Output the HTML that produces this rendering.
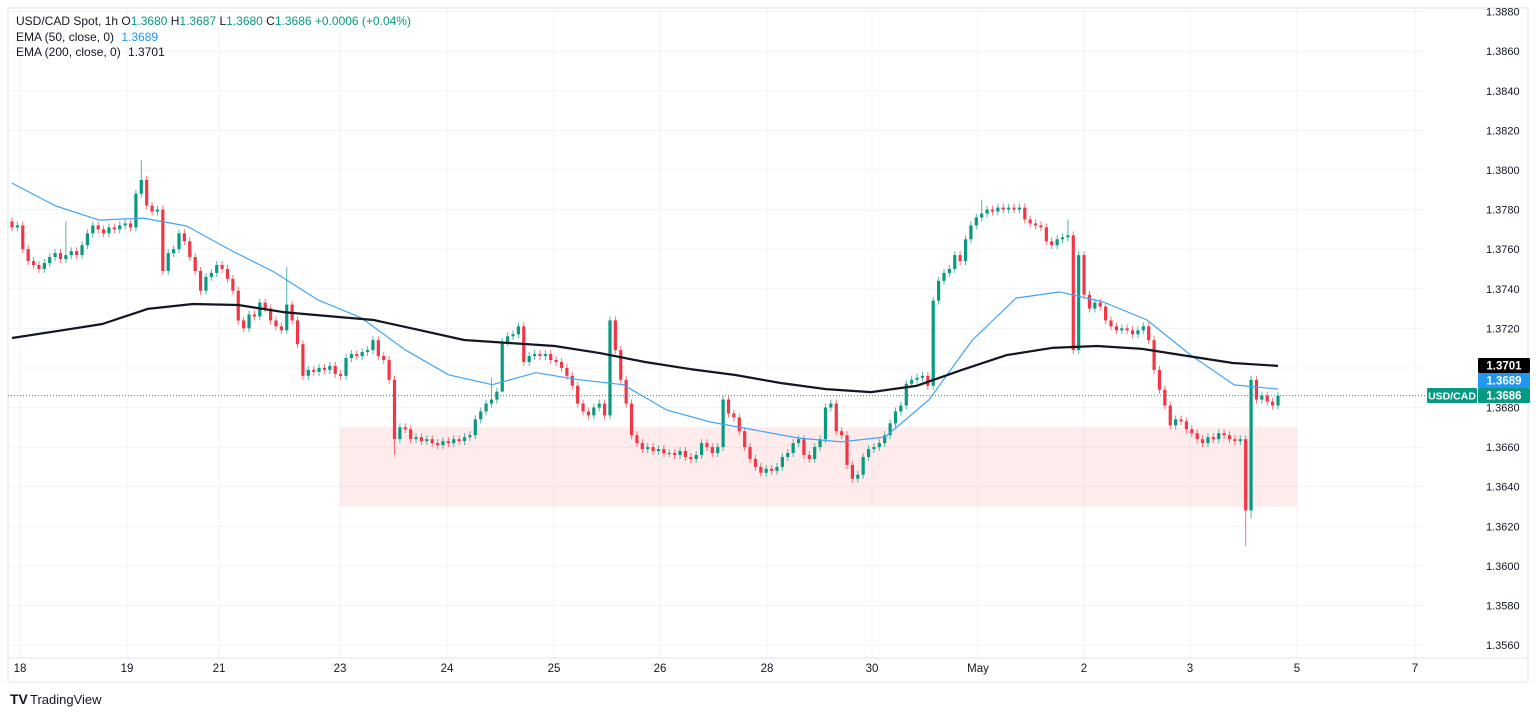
<!DOCTYPE html>
<html><head><meta charset="utf-8"><style>
html,body{margin:0;padding:0;background:#fff;}
svg{display:block;font-family:"Liberation Sans",sans-serif;}
</style></head><body>
<svg id="chart" width="1536" height="714" viewBox="0 0 1536 714" xmlns="http://www.w3.org/2000/svg">
<rect x="0" y="0" width="1536" height="714" fill="#fff"/>
<rect x="8" y="8" width="1520" height="674" fill="none" stroke="#e0e3eb"/>
<g id="grid"></g>
<g id="zone"></g>
<g id="candles"></g>
<g id="emas"></g>
<g id="axes"></g>
<g font-size="12" fill="#131722">
<text x="16" y="25">USD/CAD Spot, 1h <tspan fill="#131722"> O</tspan><tspan fill="#089981">1.3680</tspan><tspan fill="#131722"> H</tspan><tspan fill="#089981">1.3687</tspan><tspan fill="#131722"> L</tspan><tspan fill="#089981">1.3680</tspan><tspan fill="#131722"> C</tspan><tspan fill="#089981">1.3686</tspan><tspan fill="#089981"> +0.0006 (+0.04%)</tspan></text>
<text x="16" y="41">EMA (50, close, 0) <tspan fill="#2196f3" dx="4">1.3689</tspan></text>
<text x="16" y="56">EMA (200, close, 0) <tspan dx="4">1.3701</tspan></text>
</g>
<g>
<text x="10" y="704" font-size="14" font-weight="bold" fill="#131722">TV</text>
<text x="30" y="704" font-size="13" fill="#131722">TradingView</text>
</g>
</svg>
<script>
// close prices in pips above 1.3000
const closes = [771,772,760,754,752,750,753,756,758,755,757,759,757,762,768,772,770,768,771,770,772,773,771,788,795,782,779,780,749,758,760,768,764,756,749,739,746,748,752,750,745,739,724,720,727,726,733,730,724,721,719,732,724,712,696,699,698,700,699,701,697,696,705,707,706,708,709,714,706,704,694,664,670,669,664,665,663,664,662,661,663,662,
664,663,665,666,674,678,682,684,688,713,716,717,721,703,706,707,706,707,704,703,700,696,691,682,678,676,680,682,676,724,709,694,682,666,662,659,660,658,659,657,657,656,658,655,654,656,662,660,657,660,684,677,675,668,660,654,650,647,649,648,650,655,657,662,664,656,654,660,664,680,682,668,666,651,644,646,655,659,660,662,666,672,678,681,692,694,695,696,691,734,744,748,750,757,754,765,772,776,778,780,779,781,780,781,780,781,775,773,772,771,764,762,765,766,767,709,757,737,730,733,731,724,721,719,720,719,717,719,721,714,699,689,681,671,674,673,669,667,664,662,665,664,667,666,664,663,664,628,694,684,686,683,681,686];
const firstOpen = 774;
// [close, high, low, search-from-end]
const wickSpikes = [[795,805,null,0],[628,null,610,0],[732,751,null,0],[694,null,624,1],[767,775,null,0],[757,774,null,0],[684,695,null,0],[778,785,null,0],[713,null,690,0],[664,null,656,0]];
const ema50 = [793.4,781.8,774.7,775.7,771.7,759.6,748.5,734.4,725.3,709.2,696.5,691.5,697.6,694.0,691.5,678.7,672.7,668.7,664.6,662.6,665.1,683.8,714.1,735.3,738.4,733.3,724.2,706.5,691.4,689.3];
const ema200 = [715.1,718.6,722.2,729.8,732.3,731.8,728.2,726.2,724.2,719.2,714.1,712.6,711.1,707.5,703.0,699.4,696.4,692.4,689.3,687.8,690.9,698.9,706.5,710.1,711.1,709.6,706.0,702.5,701.0];
const priceTicks = ["1.3880","1.3860","1.3840","1.3820","1.3800","1.3780","1.3760","1.3740","1.3720","1.3700","1.3680","1.3660","1.3640","1.3620","1.3600","1.3580","1.3560"];
const dateLabels = ["18","19","21","23","24","25","26","28","30","May","2","3","5","7"];
const dateX = [20,127,219,340,447,554,660,767,872,978,1084,1190,1297,1415];
const zoneTop = 1.3670, zoneBottom = 1.3630, lastPrice = 1.3686;

const NS = "http://www.w3.org/2000/svg";
const PLOT_R = 1424;
function y(p){ return 170 + (1.38 - p) * 19792; }
function pip(v){ return 1.3 + v/10000; }
const X0 = 12, X1 = 1278;
function xc(i){ return X0 + i * (X1 - X0) / (closes.length - 1); }
function xe(j, n){ return X0 + j * (X1 - X0) / (n - 1); }
function mk(tag, attrs, parent){ const e=document.createElementNS(NS,tag); for(const k in attrs) e.setAttribute(k,attrs[k]); parent.appendChild(e); return e; }

const grid = document.getElementById('grid');
priceTicks.forEach(t=>{
  const l = mk('line',{x1:8,x2:PLOT_R,y1:y(+t),y2:y(+t),stroke:'#f0f3fa','stroke-width':1},grid);
  
  
});
dateX.forEach(x=>{
  const l = mk('line',{x1:x,x2:x,y1:8,y2:658,stroke:'#f0f3fa','stroke-width':1},grid);
  
  
});

const zone = document.getElementById('zone');
const zr = mk('rect',{x:340,y:y(zoneTop),width:957,height:y(zoneBottom)-y(zoneTop),fill:'#f23645','fill-opacity':0.1},zone);



const spikeAt = {};
wickSpikes.forEach(s=>{
  const idx = s[3] ? closes.lastIndexOf(s[0]) : closes.indexOf(s[0]);
  if(idx>=0) spikeAt[idx] = s;
});

const cg = document.getElementById('candles');
closes.forEach((c,i)=>{
  const o = i===0 ? firstOpen : closes[i-1];
  let hi = Math.max(o,c)+2, lo = Math.min(o,c)-2;
  const s = spikeAt[i];
  if(s){ if(s[1]!==null) hi=s[1]; if(s[2]!==null) lo=s[2]; }
  const up = c>=o, col = up ? '#089981' : '#f23645';
  const x = xc(i);
  const w = mk('line',{x1:x,x2:x,y1:y(pip(hi)),y2:y(pip(lo)),stroke:col,'stroke-width':1,'stroke-opacity':0.7},cg);
  
  
  const top = y(pip(Math.max(o,c))), bot = y(pip(Math.min(o,c)));
  const b = mk('rect',{x:x-1.6,y:top,width:3.2,height:Math.max(1,bot-top),fill:col},cg);
  
  
});

const eg = document.getElementById('emas');
function line(arr,col,wd,name){
  const pts = arr.map((v,j)=>xe(j,arr.length).toFixed(1)+','+y(pip(v)).toFixed(1)).join(' ');
  const p = mk('polyline',{points:pts,fill:'none',stroke:col,'stroke-width':wd,'stroke-linejoin':'round'},eg);
  
  
}
line(ema50,'#42a5f5',1.2,'ema50-line');
line(ema200,'#131722',2.2,'ema200-line');

const ax = document.getElementById('axes');
const lp = mk('line',{x1:8,x2:1428,y1:y(lastPrice),y2:y(lastPrice),stroke:'#089981','stroke-width':1,'stroke-dasharray':'1 2'},ax);


const bl = mk('line',{x1:8,x2:1528,y1:658,y2:658,stroke:'#e0e3eb'},ax);


priceTicks.forEach(t=>{
  const tx = mk('text',{x:1486,y:y(+t)+4,'font-size':11,fill:'#131722'},ax);
  tx.textContent = t;
  
  
});
dateLabels.forEach((d,k)=>{
  const tx = mk('text',{x:dateX[k],y:672,'font-size':11.5,fill:'#131722','text-anchor':'middle'},ax);
  tx.textContent = d;
  
  
});
function tag(x,yy,w,txt,bg,name,fs){
  const r = mk('rect',{x:x,y:yy,width:w,height:15,fill:bg,rx:1},ax);
  
  
  const t = mk('text',{x:x+w/2,y:yy+11.5,'font-size':fs,'font-weight':'bold',fill:'#fff','text-anchor':'middle'},ax);
  t.textContent = txt;
  
  
}
tag(1478,358,52,'1.3701','#000','ema200-price-tag',11.5);
tag(1478,373,52,'1.3689','#2196f3','ema50-price-tag',11.5);
tag(1478,388,52,'1.3686','#089981','last-price-tag',11.5);
tag(1427,388,50,'USD/CAD','#089981','symbol-tag',10.5);
</script>
</body></html>
